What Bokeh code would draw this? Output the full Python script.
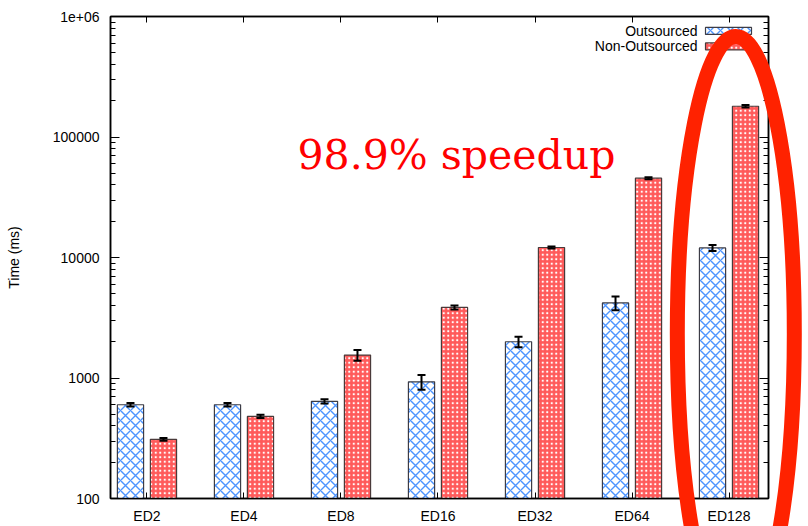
import numpy as np
from bokeh.plotting import figure
from bokeh.models import (Range1d, FixedTicker, LogAxis, LinearAxis, Whisker,
                          ColumnDataSource, Label, BoxAnnotation,
                          TeeHead, CustomJSTickFormatter)
from bokeh.embed import file_html
from bokeh.resources import INLINE

# ---- data ----
categories = ["ED2", "ED4", "ED8", "ED16", "ED32", "ED64", "ED128"]
outsourced = [600, 600, 640, 930, 2000, 4200, 12000]
outsourced_err = [20, 20, 25, 130, 200, 550, 700]
non_outsourced = [310, 480, 1550, 3850, 12100, 45500, 180000]
non_outsourced_err = [8, 15, 160, 150, 250, 800, 4000]
y_ticks = [100, 1000, 10000, 100000, 1000000]
y_tick_labels = ["100", "1000", "10000", "100000", "1e+06"]
series_names = ["Outsourced", "Non-Outsourced"]
annotation_text = "98.9% speedup"
highlight_category = "ED128"

# ---- layout constants (canvas pixels of the frame) ----
W, H = 808, 526
FL, FR, FT, FB = 110, 768, 16, 500
X0, X1 = -0.376, 6.407
Y0, Y1 = 100, 1e6


def fx(px):
    return float(X0 + (px - FL) * (X1 - X0) / (FR - FL))


def fy(py):
    return float(10 ** (np.log10(Y0) + (FB - py) * (np.log10(Y1) - np.log10(Y0)) / (FB - FT)))


FONT = "Liberation Sans"

p = figure(width=W, height=H, output_backend="svg", toolbar_location=None,
           x_range=Range1d(X0, X1), y_range=Range1d(Y0, Y1), y_axis_type="log",
           min_border_left=FL, min_border_right=W - FR, min_border_top=FT,
           min_border_bottom=H - FB)
p.xgrid.visible = False
p.ygrid.visible = False
p.outline_line_color = "black"
p.outline_line_width = 1.5
p.background_fill_color = "white"
p.border_fill_color = "white"

idx = list(range(len(categories)))
off = 0.17
bw = 0.27
x_out = [i - off for i in idx]
x_non = [i + off for i in idx]

blue_hatch = dict(hatch_pattern="diagonal_cross", hatch_color="#4d94ff",
                  hatch_scale=10, hatch_weight=1.4)
red_hatch = dict(hatch_pattern="dot", hatch_color="white",
                 hatch_scale=4.5, hatch_weight=1.3)

p.vbar(x=x_out, top=outsourced, bottom=Y0, width=bw, fill_color="white",
       line_color="#3c3c46", line_width=1.2, **blue_hatch)
p.vbar(x=x_non, top=non_outsourced, bottom=Y0, width=bw, fill_color="#ff5a5a",
       line_color="#4a3a3a", line_width=1.2, **red_hatch)

# error bars
for xs, ys, es in ((x_out, outsourced, outsourced_err),
                   (x_non, non_outsourced, non_outsourced_err)):
    src = ColumnDataSource(dict(x=xs, upper=[y + e for y, e in zip(ys, es)],
                                lower=[y - e for y, e in zip(ys, es)]))
    w = Whisker(base="x", upper="upper", lower="lower", source=src,
                line_color="black", line_width=2,
                upper_head=TeeHead(size=8, line_width=2, line_color="black"),
                lower_head=TeeHead(size=8, line_width=2, line_color="black"),
                level="annotation")
    p.add_layout(w)

# x axis
xa = p.xaxis[0]
xa.ticker = FixedTicker(ticks=idx)
xa.major_label_overrides = {i: c for i, c in zip(idx, categories)}
xa.major_tick_in = 6
xa.major_tick_out = 0
xa.minor_tick_line_color = None
xa.axis_line_width = 1.5
xa.major_label_text_font = FONT
xa.major_label_text_font_size = "14px"
xa.major_label_text_color = "black"
xa.major_label_standoff = 9

# y axis
minor = [m * t for t in y_ticks[:-1] for m in range(2, 10)]
ya = p.yaxis[0]
ya.ticker = FixedTicker(ticks=y_ticks, minor_ticks=minor)
ya.major_label_overrides = {t: l for t, l in zip(y_ticks, y_tick_labels)}
ya.major_tick_in = 9
ya.major_tick_out = 0
ya.minor_tick_in = 5
ya.minor_tick_out = 0
ya.axis_line_width = 1.5
ya.major_label_text_font = FONT
ya.major_label_text_font_size = "14px"
ya.major_label_text_color = "black"
ya.major_label_standoff = 11
ya.axis_label = "Time (ms)"
ya.axis_label_text_font = FONT
ya.axis_label_text_font_size = "14px"
ya.axis_label_text_font_style = "normal"
ya.axis_label_text_color = "black"
ya.axis_label_standoff = 28

# mirrored axes (right, top) with inward ticks, no labels
blank = CustomJSTickFormatter(code="return ''")
ra = LogAxis(ticker=FixedTicker(ticks=y_ticks, minor_ticks=minor),
             major_tick_in=9, major_tick_out=0, minor_tick_in=5, minor_tick_out=0,
             formatter=blank, major_label_standoff=0, axis_line_width=1.5)
p.add_layout(ra, "right")
ta = LinearAxis(ticker=FixedTicker(ticks=idx), major_tick_in=6, major_tick_out=0,
                minor_tick_line_color=None, formatter=blank, major_label_standoff=0,
                axis_line_width=1.5)
p.add_layout(ta, "above")

# legend (text right-aligned, key to the right)
rows = [30.5, 46]
key_styles = [dict(fill_color="white", line_color="#3c3c46", **blue_hatch),
              dict(fill_color="#ff5a5a", line_color="#4a3a3a", **red_hatch)]
for name, ry, st in zip(series_names, rows, key_styles):
    p.add_layout(Label(x=fx(697), y=fy(ry), text=name, text_align="right",
                       text_baseline="middle", text_font=FONT,
                       text_font_size="14px", text_color="black"))
    p.add_layout(BoxAnnotation(left=fx(705), right=fx(751), top=fy(ry - 3.5),
                               bottom=fy(ry + 3.5), fill_alpha=1, line_alpha=1,
                               line_width=1.2, level="annotation", **st))

# speedup text
p.add_layout(Label(x=fx(456), y=fy(155), text=annotation_text, text_align="center",
                   text_baseline="alphabetic", text_font="DejaVu Serif",
                   text_font_size="41px", text_color="#ff0000", level="overlay"))

# ---- transparent overlay figure for the red highlight ellipse ----
# (it runs past the plot frame, so it lives in a frame that covers the whole canvas;
#  its scales extend the main plot's scales over the full canvas)
q = figure(width=W, height=H, output_backend="svg", toolbar_location=None,
           x_range=Range1d(fx(0), fx(W)), y_range=Range1d(fy(H), fy(0)),
           y_axis_type="log", min_border=0, min_border_left=0, min_border_right=0,
           min_border_top=0, min_border_bottom=0,
           background_fill_color=None, border_fill_color=None,
           outline_line_color=None)
q.axis.visible = False
q.grid.visible = False
q.styles = {"position": "absolute", "left": "0px", "top": "0px"}
hx = categories.index(highlight_category) + 0.07
q.ellipse(x=[hx], y=[fy(333)], width=[117], height=[594],
          width_units="screen", height_units="screen",
          fill_alpha=0, line_color="#ff2200", line_width=15)

open("out.html", "w").write(file_html([p, q], INLINE))
